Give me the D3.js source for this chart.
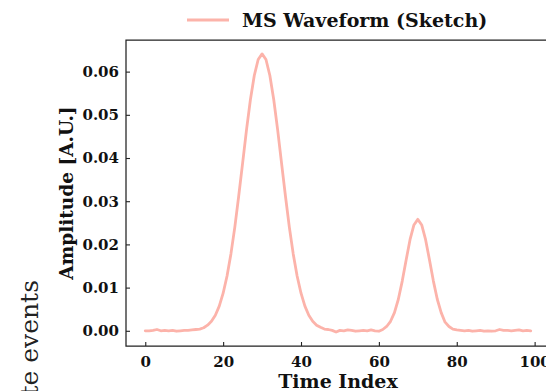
<!DOCTYPE html>
<html>
<head>
<meta charset="utf-8">
<script src="https://cdn.jsdelivr.net/npm/d3@7"></script>
<style>
  html, body { margin: 0; padding: 0; background: #fff; }
  svg { display: block; }
</style>
</head>
<body>
<svg id="chart" width="546" height="391"></svg>
<script>
// Sample index and waveform amplitude (arbitrary units)
const timeIndex = d3.range(0, 100);
const amplitude = [
  0.0000, 0.0000, 0.0001, 0.0003, 0.0000, 0.0001, 0.0000, 0.0001, -0.0001, 0.0000,
  0.0001, 0.0001, 0.0002, 0.0003, 0.0004, 0.0007, 0.0013, 0.0022, 0.0036, 0.0057,
  0.0087, 0.0127, 0.0178, 0.0240, 0.0312, 0.0388, 0.0465, 0.0535, 0.0591, 0.0628,
  0.0641, 0.0628, 0.0591, 0.0535, 0.0465, 0.0388, 0.0312, 0.0240, 0.0178, 0.0127,
  0.0087, 0.0057, 0.0036, 0.0022, 0.0013, 0.0008, 0.0004, 0.0003, 0.0001, -0.0003,
  0.0001, 0.0000, 0.0002, 0.0001, -0.0001, 0.0000, 0.0001, 0.0000, 0.0002, 0.0000,
  -0.0001, 0.0003, 0.0010, 0.0022, 0.0042, 0.0073, 0.0115, 0.0164, 0.0211, 0.0245,
  0.0258, 0.0245, 0.0211, 0.0164, 0.0115, 0.0073, 0.0042, 0.0020, 0.0010, 0.0004,
  0.0002, 0.0001, 0.0000, 0.0001, -0.0001, 0.0000, 0.0001, -0.0001, 0.0000, -0.0001,
  0.0000, 0.0003, 0.0001, 0.0001, 0.0000, 0.0001, 0.0002, 0.0000, 0.0001, 0.0000
];
const xTicks = [0, 20, 40, 60, 80, 100];
const yTicks = [0.00, 0.01, 0.02, 0.03, 0.04, 0.05, 0.06];
const seriesName = "MS Waveform (Sketch)";

const svg = d3.select("#chart");
const serif = "'DejaVu Serif', serif";
const ink = "#222";
const lineColor = "#fcb3aa";

// Plot frame (right edge runs past the canvas)
const frame = { left: 126, right: 550, top: 40, bottom: 346 };

const xMin = d3.min(timeIndex), xMax = d3.max(timeIndex);
const xPad = (xMax - xMin) * 0.05;
const x = d3.scaleLinear().domain([xMin - xPad, xMax + xPad]).range([frame.left, frame.right]);

const yLo = d3.min(amplitude), yHi = d3.max(amplitude);
const yPad = (yHi - yLo) * 0.05;
const y = d3.scaleLinear().domain([yLo - yPad, yHi + yPad]).range([frame.bottom, frame.top]);

// Waveform
const line = d3.line().x((d, i) => x(timeIndex[i])).y(d => y(d));
svg.append("path")
  .datum(amplitude)
  .attr("d", line)
  .attr("fill", "none")
  .attr("stroke", lineColor)
  .attr("stroke-width", 2.8)
  .attr("stroke-linejoin", "round")
  .attr("stroke-linecap", "round");

// Axes with inward ticks
const xAxis = svg.append("g")
  .attr("transform", `translate(0,${frame.bottom})`)
  .call(d3.axisBottom(x).tickValues(xTicks).tickFormat(d3.format("d")).tickSizeInner(-4).tickSizeOuter(0).tickPadding(9));
const yAxis = svg.append("g")
  .attr("transform", `translate(${frame.left},0)`)
  .call(d3.axisLeft(y).tickValues(yTicks).tickFormat(d3.format(".2f")).tickSizeInner(-4).tickSizeOuter(0).tickPadding(7));

[xAxis, yAxis].forEach(g => {
  g.select(".domain").remove();
  g.selectAll(".tick line").attr("stroke", ink).attr("stroke-width", 1.1);
  g.selectAll(".tick text")
    .attr("fill", "#111")
    .style("font-family", serif)
    .style("font-weight", "bold")
    .style("font-size", "15px");
});
xAxis.selectAll(".tick text").attr("dy", "0.8em");

// Spines: left, bottom, top
svg.append("path")
  .attr("d", `M${frame.right},${frame.top}H${frame.left}V${frame.bottom}H${frame.right}`)
  .attr("fill", "none")
  .attr("stroke", ink)
  .attr("stroke-width", 1.25);

// Axis titles
svg.append("text")
  .attr("x", (frame.left + frame.right) / 2)
  .attr("y", 388)
  .attr("text-anchor", "middle")
  .style("font-family", serif)
  .style("font-weight", "bold")
  .style("font-size", "19px")
  .attr("fill", "#111")
  .text("Time Index");

svg.append("text")
  .attr("transform", `translate(73,${(frame.top + frame.bottom) / 2}) rotate(-90)`)
  .attr("text-anchor", "middle")
  .style("font-family", serif)
  .style("font-weight", "bold")
  .style("font-size", "18.5px")
  .attr("fill", "#111")
  .text("Amplitude [A.U.]");

// Legend
const legend = svg.append("g");
legend.append("line")
  .attr("x1", 187).attr("x2", 229)
  .attr("y1", 20).attr("y2", 20)
  .attr("stroke", lineColor)
  .attr("stroke-width", 2.8);
legend.append("text")
  .attr("x", 242)
  .attr("y", 20)
  .attr("dy", "0.35em")
  .style("font-family", serif)
  .style("font-weight", "bold")
  .style("font-size", "19px")
  .attr("fill", "#111")
  .text(seriesName);

// Side caption along the left edge
svg.append("text")
  .attr("transform", "translate(38,280) rotate(-90)")
  .attr("text-anchor", "end")
  .style("font-family", serif)
  .style("font-size", "25px")
  .attr("fill", "#222")
  .text("te events");
</script>
</body>
</html>
